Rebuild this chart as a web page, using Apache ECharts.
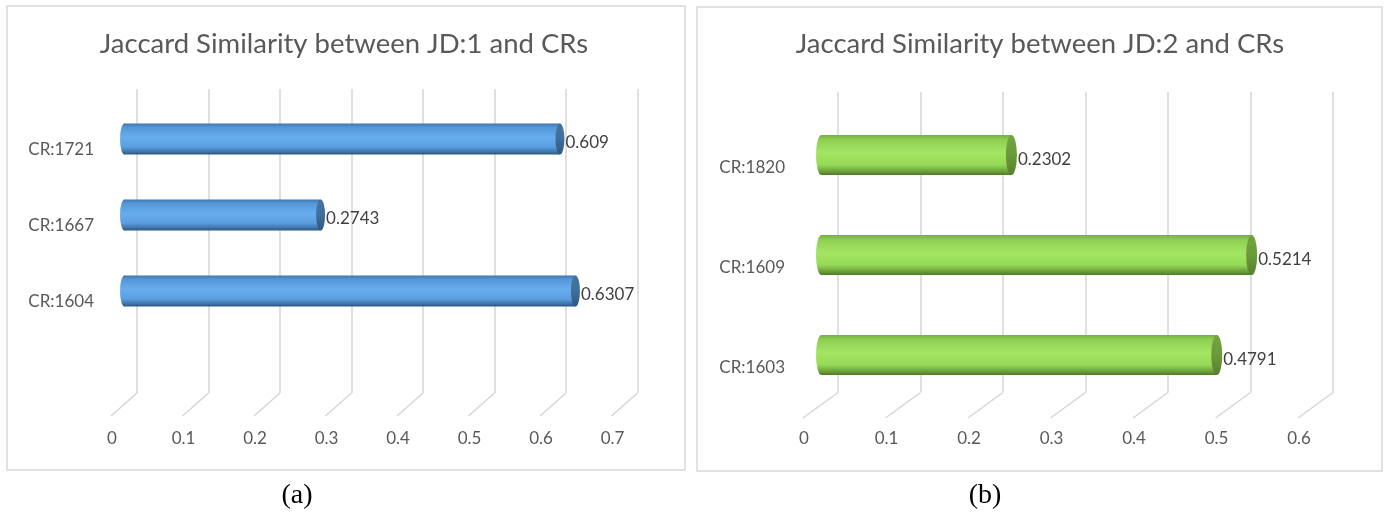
<!DOCTYPE html>
<html>
<head>
<meta charset="utf-8">
<script src="https://cdn.jsdelivr.net/npm/echarts@6/dist/echarts.min.js"></script>
<style>
  html, body { margin: 0; padding: 0; background: #ffffff; }
  #chart { width: 1387px; height: 522px; }
</style>
</head>
<body>
<div id="chart"></div>
<script>
// Panel (a): Jaccard similarity between JD:1 and CRs (bottom category first)
const catsA = ['CR:1604', 'CR:1667', 'CR:1721'];
const valsA = [0.6307, 0.2743, 0.609];
const ticksA = [0, 0.1, 0.2, 0.3, 0.4, 0.5, 0.6, 0.7];

// Panel (b): Jaccard similarity between JD:2 and CRs
const catsB = ['CR:1603', 'CR:1609', 'CR:1820'];
const valsB = [0.4791, 0.5214, 0.2302];
const ticksB = [0, 0.1, 0.2, 0.3, 0.4, 0.5, 0.6];

const titleA = 'Jaccard Similarity between JD:1 and CRs';
const titleB = 'Jaccard Similarity between JD:2 and CRs';

const FONT = 'Lato, "Noto Sans", sans-serif';
const TEXT = '#595959';
const GRID_LINE = '#d6d6d6';

const chart = echarts.init(document.getElementById('chart'), null, { renderer: 'canvas' });

function grid(left, top, width, height) {
  return { left: left, top: top, width: width, height: height, outerBoundsMode: 'none', containLabel: false };
}

// Horizontal cylinder bars, drawn from the bar grid's own scales
function cylinder(look) {
  return function (params, api) {
    const v = api.value(0);
    const c = api.value(1);
    const p0 = api.coord([0, c]);
    const p1 = api.coord([v, c]);
    const h = api.size([0, 1])[1] * look.thick;
    const ry = h / 2;
    const cy = p0[1];
    const rx = look.rx;
    const bodyFill = new echarts.graphic.LinearGradient(0, 0, 0, 1, look.body);
    const capFill = new echarts.graphic.LinearGradient(0, 0, 0, 1, look.cap);
    return {
      type: 'group',
      children: [
        { type: 'circle', shape: { cx: 0, cy: 0, r: ry }, x: p0[0], y: cy, scaleX: rx / ry, style: { fill: bodyFill } },
        { type: 'rect', shape: { x: p0[0], y: cy - ry, width: p1[0] - p0[0], height: h }, style: { fill: bodyFill } },
        { type: 'circle', shape: { cx: 0, cy: 0, r: ry }, x: p1[0], y: cy, scaleX: rx / ry, style: { fill: capFill } },
        {
          type: 'text', x: p1[0] + rx + 1, y: cy + look.labelDy,
          style: { text: String(v), fill: '#404040', fontSize: 17, fontFamily: FONT, verticalAlign: 'middle', align: 'left' }
        }
      ]
    };
  };
}

// Floor edges: slanted line from the foot of each back-wall gridline
function floorEdge(dx, dy) {
  return function (params, api) {
    const p = api.coord([api.value(0), 0]);
    return {
      type: 'line',
      shape: { x1: p[0], y1: p[1], x2: p[0] + dx, y2: p[1] + dy },
      style: { stroke: GRID_LINE, lineWidth: 1.5 }
    };
  };
}

const blueLook = {
  thick: 0.408, rx: 4.5, labelDy: 4,
  body: [
    { offset: 0, color: '#3e76ae' }, { offset: 0.12, color: '#5596d6' },
    { offset: 0.45, color: '#67aeef' }, { offset: 0.75, color: '#5c9fe0' },
    { offset: 0.9, color: '#4178b0' }, { offset: 1, color: '#2c5680' }
  ],
  cap: [
    { offset: 0, color: '#44739f' }, { offset: 0.5, color: '#3f6f9c' }, { offset: 1, color: '#30587f' }
  ]
};
const greenLook = {
  thick: 0.4, rx: 5.5, labelDy: 5,
  body: [
    { offset: 0, color: '#76b13d' }, { offset: 0.12, color: '#8fd052' },
    { offset: 0.45, color: '#a3e664' }, { offset: 0.75, color: '#94d957' },
    { offset: 0.9, color: '#6fa43a' }, { offset: 1, color: '#52792a' }
  ],
  cap: [
    { offset: 0, color: '#74a441' }, { offset: 0.5, color: '#6a9a39' }, { offset: 1, color: '#57802d' }
  ]
};

const hiddenVal = { type: 'value', show: false, min: 0, max: 1 };

function panelAxes(gi, maxV, cats) {
  // gi: first grid index of the panel (front, back, bars, categories)
  const xs = [
    { gridIndex: gi, type: 'value', min: 0, max: maxV, interval: 0.1,
      axisLine: { show: false }, axisTick: { show: false }, splitLine: { show: false },
      axisLabel: { margin: 12, color: TEXT, fontSize: 17, fontFamily: FONT } },
    { gridIndex: gi + 1, type: 'value', min: 0, max: maxV, interval: 0.1,
      axisLine: { show: false }, axisTick: { show: false }, axisLabel: { show: false },
      splitLine: { show: true, lineStyle: { color: GRID_LINE, width: 1.5 } } },
    { gridIndex: gi + 2, type: 'value', min: 0, max: maxV, show: false },
    { gridIndex: gi + 3, type: 'value', min: 0, max: maxV, show: false }
  ];
  const ys = [
    Object.assign({ gridIndex: gi }, hiddenVal),
    Object.assign({ gridIndex: gi + 1 }, hiddenVal),
    { gridIndex: gi + 2, type: 'category', data: cats, show: false },
    { gridIndex: gi + 3, type: 'category', data: cats,
      axisLine: { show: false }, axisTick: { show: false }, splitLine: { show: false },
      axisLabel: { margin: 6, color: TEXT, fontSize: 17, fontFamily: FONT } }
  ];
  return { xs: xs, ys: ys };
}

const axA = panelAxes(0, 0.7, catsA);
const axB = panelAxes(4, 0.6, catsB);

const option = {
  backgroundColor: '#ffffff',
  animation: false,
  grid: [
    grid(112, 89, 500.5, 329), grid(137, 89, 500.5, 304), grid(124.5, 101, 500.5, 228), grid(100, 112, 500, 228),
    grid(804, 92, 495, 326), grid(838, 92, 495, 300.5), grid(821.5, 105, 495, 300), grid(791, 118, 495, 300)
  ],
  xAxis: axA.xs.concat(axB.xs),
  yAxis: axA.ys.concat(axB.ys),
  graphic: [
    { type: 'rect', shape: { x: 7, y: 6, width: 678, height: 464 }, style: { fill: null, stroke: '#d9d9d9', lineWidth: 1.5 }, silent: true },
    { type: 'rect', shape: { x: 697, y: 7, width: 685, height: 464 }, style: { fill: null, stroke: '#d9d9d9', lineWidth: 1.5 }, silent: true },
    { type: 'text', x: 344, y: 44, style: { text: titleA, fill: TEXT, fontSize: 27.5, fontFamily: FONT, align: 'center', verticalAlign: 'middle' } },
    { type: 'text', x: 1040, y: 44, style: { text: titleB, fill: TEXT, fontSize: 27.5, fontFamily: FONT, align: 'center', verticalAlign: 'middle' } },
    { type: 'text', x: 297, y: 496, style: { text: '(a)', fill: '#000000', fontSize: 28, fontFamily: '"Liberation Serif", "DejaVu Serif", serif', align: 'center', verticalAlign: 'middle' } },
    { type: 'text', x: 985, y: 496, style: { text: '(b)', fill: '#000000', fontSize: 28, fontFamily: '"Liberation Serif", "DejaVu Serif", serif', align: 'center', verticalAlign: 'middle' } }
  ],
  series: [
    { type: 'custom', xAxisIndex: 1, yAxisIndex: 1, clip: false, silent: true, z: 1,
      data: ticksA.map(function (t) { return [t]; }), renderItem: floorEdge(-26, 23) },
    { type: 'custom', xAxisIndex: 2, yAxisIndex: 2, clip: false, silent: true, z: 3,
      data: valsA.map(function (v, i) { return [v, i]; }), renderItem: cylinder(blueLook) },
    { type: 'custom', xAxisIndex: 5, yAxisIndex: 5, clip: false, silent: true, z: 1,
      data: ticksB.map(function (t) { return [t]; }), renderItem: floorEdge(-35, 25.5) },
    { type: 'custom', xAxisIndex: 6, yAxisIndex: 6, clip: false, silent: true, z: 3,
      data: valsB.map(function (v, i) { return [v, i]; }), renderItem: cylinder(greenLook) }
  ]
};

chart.setOption(option);
</script>
</body>
</html>
